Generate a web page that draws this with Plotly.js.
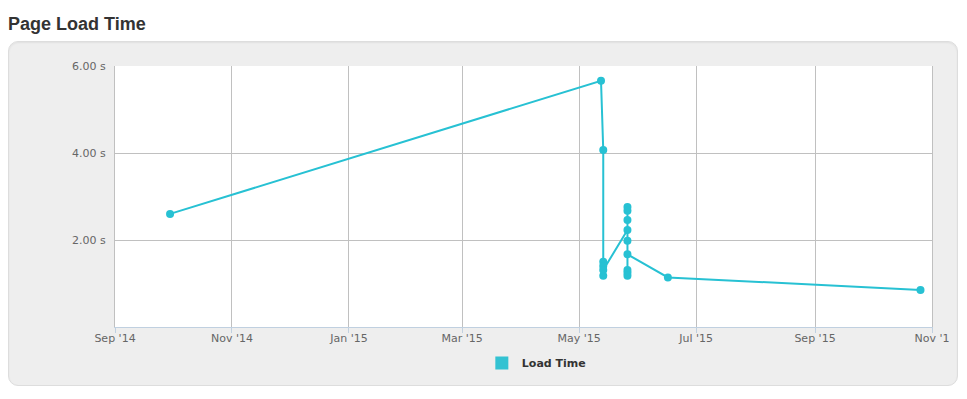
<!DOCTYPE html>
<html>
<head>
<meta charset="utf-8">
<script src="https://cdn.plot.ly/plotly-3.0.1.min.js"></script>
<style>
  html, body { margin: 0; padding: 0; background: #ffffff; }
  #wrap { position: relative; width: 967px; height: 399px; overflow: hidden; }
  #panel { position: absolute; left: 8px; top: 41px; width: 948px; height: 343px;
           background: #eeeeee; border: 1px solid #dddddd; border-radius: 10px;
           box-shadow: inset 0 1px 2px rgba(0,0,0,0.06); }
  #chart { position: absolute; left: 0; top: 0; width: 967px; height: 399px; }
</style>
</head>
<body>
<div id="wrap">
  <div id="panel"></div>
  <div id="chart"></div>
</div>
<script>
// ---- data ----
const loadDates = [
  '2014-09-29 17:00',
  '2015-05-12 10:00',
  '2015-05-13 14:00', '2015-05-13 14:00', '2015-05-13 14:00', '2015-05-13 14:00', '2015-05-13 14:00',
  '2015-05-26 05:00', '2015-05-26 05:00', '2015-05-26 05:00', '2015-05-26 05:00', '2015-05-26 05:00',
  '2015-05-26 05:00', '2015-05-26 05:00', '2015-05-26 05:00', '2015-05-26 05:00',
  '2015-06-16 07:00',
  '2015-10-26 00:00'
];
const loadTimes = [
  2.60,
  5.66,
  4.07, 1.18, 1.50, 1.40, 1.31,
  2.23, 2.76, 2.67, 2.46, 1.98, 1.31, 1.25, 1.18, 1.67,
  1.14,
  0.85
];
const xTickVals = ['2014-09-01','2014-11-01','2015-01-01','2015-03-01','2015-05-01','2015-07-01','2015-09-01','2015-11-01'];
const xTickText = ["Sep '14","Nov '14","Jan '15","Mar '15","May '15","Jul '15","Sep '15","Nov '1"];
const yTickVals = [2, 4, 6];
const yTickText = ['2.00 s', '4.00 s', '6.00 s'];
const seriesName = 'Load Time';
const chartTitle = 'Page Load Time';

const color = '#27c1d3';

const traces = [
  {
    x: loadDates, y: loadTimes, type: 'scatter', mode: 'lines+markers',
    line: { color: color, width: 2 },
    marker: { color: color, size: 8 },
    showlegend: false, hoverinfo: 'x+y'
  },
  {
    x: [null], y: [null], type: 'scatter', mode: 'markers',
    name: '<b>' + seriesName + '</b>',
    marker: { color: '#33c2d2', size: 13, symbol: 'square' },
    showlegend: true
  }
];

const layout = {
  width: 967, height: 399,
  margin: { l: 115, r: 35, t: 66, b: 72 },
  paper_bgcolor: 'rgba(0,0,0,0)',
  plot_bgcolor: '#ffffff',
  title: {
    text: '<b>' + chartTitle + '</b>',
    font: { family: 'Liberation Sans, Arial, sans-serif', size: 18, color: '#333333' },
    xref: 'container', yref: 'container',
    x: 8 / 967, xanchor: 'left',
    y: 1 - 23.5 / 399, yanchor: 'middle'
  },
  xaxis: {
    type: 'date',
    range: ['2014-09-01', '2015-11-01'],
    tickmode: 'array', tickvals: xTickVals, ticktext: xTickText,
    showgrid: true, gridcolor: '#c0c0c0', gridwidth: 1,
    showline: true, linecolor: '#c0d0e0', linewidth: 1,
    ticks: 'outside', ticklen: 5, tickcolor: '#c0d0e0', tickwidth: 1,
    ticklabelstandoff: -4,
    tickfont: { family: 'DejaVu Sans, sans-serif', size: 11, color: '#666666' },
    zeroline: false, fixedrange: true
  },
  yaxis: {
    range: [0, 6],
    tickmode: 'array', tickvals: yTickVals, ticktext: yTickText,
    showgrid: true, gridcolor: '#c0c0c0', gridwidth: 1,
    showline: true, linecolor: '#c0c0c0', linewidth: 1, mirror: true,
    ticks: '', ticklabelstandoff: 6,
    tickfont: { family: 'DejaVu Sans, sans-serif', size: 11, color: '#666666' },
    zeroline: false, fixedrange: true
  },
  showlegend: true,
  legend: {
    orientation: 'h',
    x: 0.449, xanchor: 'left',
    y: -0.138, yanchor: 'middle',
    bgcolor: 'rgba(0,0,0,0)',
    font: { family: 'DejaVu Sans, sans-serif', size: 11, color: '#333333' },
    itemclick: false, itemdoubleclick: false
  }
};

Plotly.newPlot('chart', traces, layout, { displayModeBar: false, staticPlot: false });
</script>
</body>
</html>
